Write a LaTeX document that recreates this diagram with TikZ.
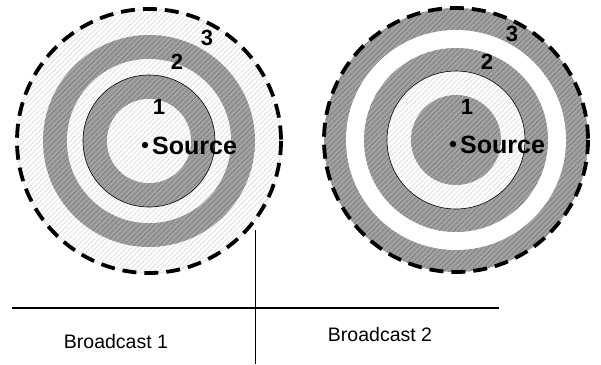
\documentclass[tikz,border=0pt]{standalone}
\usepackage{fontspec}
\setmainfont{Liberation Sans}
\usetikzlibrary{patterns.meta, positioning}

\definecolor{ringgray}{HTML}{A2A2A2}
\definecolor{hatchdark}{HTML}{7E7E7E}
\definecolor{hatchlight}{HTML}{DEDEDE}

\begin{document}
\begin{tikzpicture}[x=1pt, y=-1pt,
    dark/.style={preaction={fill=ringgray}, pattern={Lines[angle=45, distance=3.6pt, line width=0.8pt]}, pattern color=hatchdark},
    light/.style={preaction={fill=white}, pattern={Lines[angle=45, distance=3.6pt, line width=0.8pt]}, pattern color=hatchlight},
    edge/.style={draw=black, line width=0.6pt},
    border/.style={draw=black, line width=3.8pt, dash pattern=on 14pt off 8pt},
    num/.style={font=\fontsize{22}{22}\selectfont\bfseries, inner sep=0pt},
    src/.style={font=\fontsize{25}{25}\selectfont\bfseries, inner sep=0pt, anchor=west},
    caption/.style={font=\fontsize{19.5}{19.5}\selectfont, inner sep=0pt}
]
    \useasboundingbox (0,0) rectangle (601,364);

    % Broadcast 1
    \coordinate (c1) at (149,141);
    \fill[light] (c1) circle (132);
    \draw[hatchlight, line width=0.6pt] (c1) circle (132);
    \fill[dark] (c1) circle (106);
    \fill[light] (c1) circle (82);
    \filldraw[dark, edge] (c1) circle (66);
    \fill[light] (c1) circle (42);
    \draw[border] (c1) circle (132);

    % Broadcast 2
    \coordinate (c2) at (456,140);
    \fill[dark] (c2) circle (132);
    \fill[white] (c2) circle (110);
    \fill[dark] (c2) circle (92);
    \filldraw[light, edge] (c2) circle (69);
    \fill[dark] (c2) circle (45);
    \draw[border] (c2) circle (132);

    % labels
    \node[num] (a1) at (159,107) {1};
    \node[num] (a2) at (177,62) {2};
    \node[num] (a3) at (207,38) {3};
    \fill (145,145) circle (3.2) coordinate (s1);
    \node[src] (src1) at (152,146) {Source};

    \node[num] (b1) at (467,107) {1};
    \node[num] (b2) at (487,62) {2};
    \node[num] (b3) at (512,34) {3};
    \fill (453,144) circle (3.2) coordinate (s2);
    \node[src] (src2) at (460,145) {Source};

    % divider
    \coordinate (hl) at (12,308);
    \coordinate (hr) at (499,308);
    \coordinate (vt) at (255,230);
    \coordinate (vb) at (255,364);
    \draw[line width=2.8pt] (hl) -- (hr);
    \draw[line width=0.6pt] (vt) -- (vb);

    \node[caption] (cap1) at (116,342) {Broadcast 1};
    \node[caption] (cap2) at (380,335) {Broadcast 2};
\end{tikzpicture}
\end{document}
